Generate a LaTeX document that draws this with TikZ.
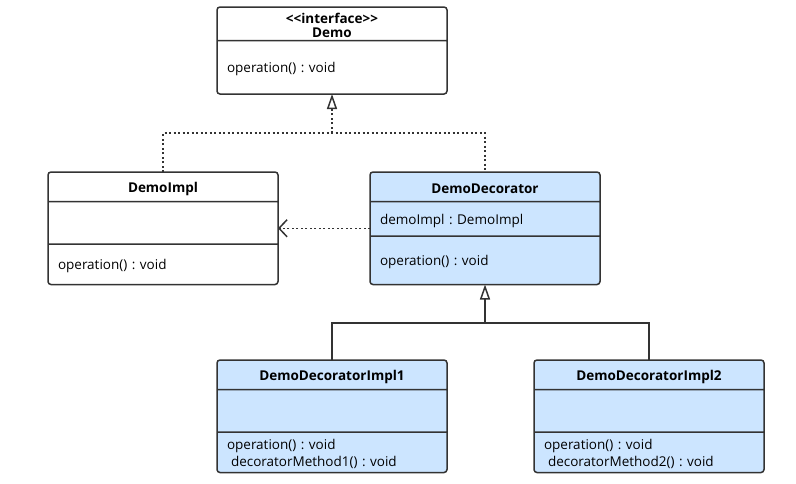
\documentclass[tikz,border=0pt]{standalone}
\usepackage{fontspec}
\setmainfont{Open Sans}
\usetikzlibrary{shapes.multipart,arrows.meta}
\definecolor{boxline}{HTML}{333333}
\definecolor{boxblue}{HTML}{CCE5FF}
% one compartment of a class box: height, contents
\newcommand{\umlpart}[2]{\parbox[c][#1pt][c]{230pt}{\vspace*{4pt}#2}}
\frenchspacing

\begin{document}
\begin{tikzpicture}[x=1pt, y=-1pt, outer sep=0pt]
  \tikzstyle{umlclass}=[
    draw=boxline,
    rectangle split,
    rectangle split parts=3,
    text width=230pt,
    inner sep=0pt,
    rounded corners=3pt,
    line width=1.5pt,
    fill=white,
    font=\fontsize{13.5}{17}\selectfont,
    anchor=north
  ]
  \tikzstyle{deco}=[umlclass, fill=boxblue]
  \tikzstyle{realize} = [line width=1.5pt, draw=boxline, dash pattern=on 2pt off 2.5pt]
  \tikzstyle{inherit} = [line width=1.5pt, draw=boxline]
  \tikzstyle{triangle} = [-{Triangle[open,length=15pt,width=10pt,line width=1.5pt]}]
  \tikzstyle{barb} = [-{Straight Barb[length=8pt,width=17pt,line width=1.5pt]}]

  \useasboundingbox (0,0) rectangle (796,483);

  \node[umlclass, rectangle split parts=2] (demo) at (332,7) {
    \umlpart{32}{\centering\bfseries <{}<interface>{}>\\[-3pt] Demo}
    \nodepart{two}\umlpart{52}{\hspace*{10pt}operation() : void}};

  \node[umlclass] (demoimpl) at (163,172) {
    \umlpart{28}{\centering\bfseries DemoImpl}
    \nodepart{two}\umlpart{41}{}
    \nodepart{three}\umlpart{39}{\hspace*{10pt}operation() : void}};

  \node[deco] (demodeco) at (485,172) {
    \umlpart{28}{\centering\bfseries DemoDecorator}
    \nodepart{two}\umlpart{33}{\hspace*{10pt}demoImpl : DemoImpl}
    \nodepart{three}\umlpart{47}{\hspace*{10pt}operation() : void}};

  \node[deco] (decoimpl1) at (332,360) {
    \umlpart{28}{\centering\bfseries DemoDecoratorImpl1}
    \nodepart{two}\umlpart{41}{}
    \nodepart{three}\umlpart{39}{\hspace*{10pt}operation() : void\\
      \hspace*{14pt}decoratorMethod1() : void}};

  \node[deco] (decoimpl2) at (649,360) {
    \umlpart{28}{\centering\bfseries DemoDecoratorImpl2}
    \nodepart{two}\umlpart{41}{}
    \nodepart{three}\umlpart{39}{\hspace*{10pt}operation() : void\\
      \hspace*{14pt}decoratorMethod2() : void}};

  % realization of the interface
  \coordinate (join1) at (332,133);
  \draw[realize] (demoimpl.north) |- (join1) -| (demodeco.north);
  \draw[realize, triangle] (join1) -- (demo.south);

  % decorator holds a DemoImpl
  \draw[realize, barb] (demodeco.west) -- (demoimpl.east);

  % concrete decorators
  \coordinate (join2) at (485,323);
  \draw[inherit] (decoimpl1.north) |- (join2) -| (decoimpl2.north);
  \draw[inherit, triangle] (join2) -- (demodeco.south);
\end{tikzpicture}
\end{document}
